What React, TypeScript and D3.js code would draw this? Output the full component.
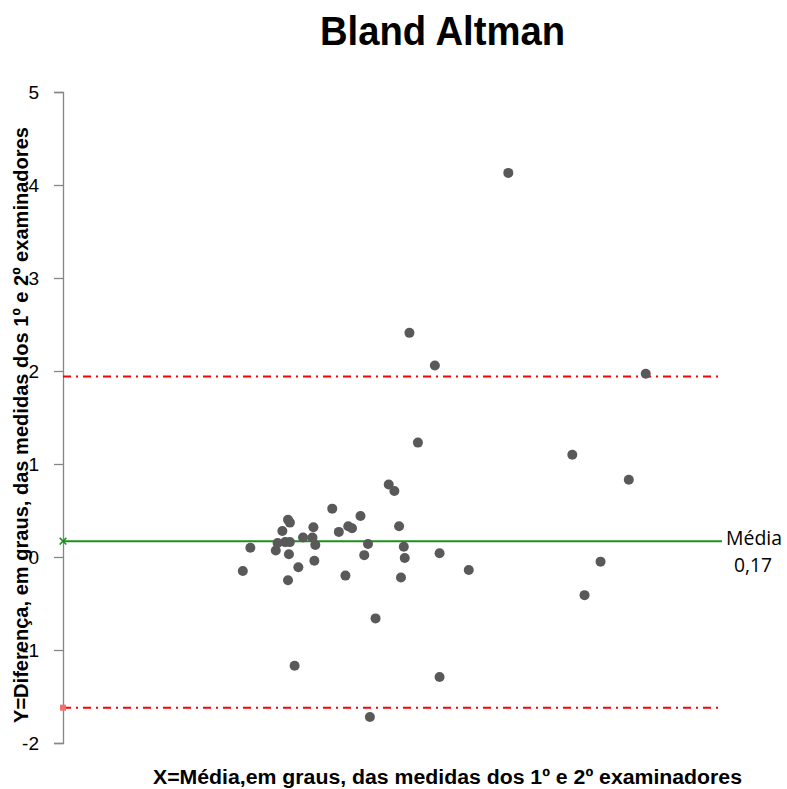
import React, { useEffect, useRef } from 'react';
import * as d3 from 'd3';

// mean of the two measurements (degrees) and their difference
const meanValues = [
  19.1, 19.9, 22.6, 22.8, 23.3, 23.6, 23.9, 24.1, 24.1, 24.0, 23.9, 25.0,
  25.5, 26.6, 26.5, 26.8, 26.7, 28.6, 29.3, 30.3, 30.7, 30.0, 31.6, 34.6,
  35.2, 35.7, 32.4, 32.0, 36.2, 36.3, 35.9, 40.0, 43.1, 47.3, 36.8, 39.5,
  61.9, 37.7, 54.1, 60.1, 57.1, 55.4, 33.2, 24.6, 40.0, 32.6,
];
const diffValues = [
  -0.15, 0.10, 0.07, 0.15, 0.28, 0.16, 0.40, 0.37, 0.16, 0.03, -0.25, -0.11,
  0.21, 0.32, 0.21, 0.13, -0.04, 0.52, 0.27, 0.33, 0.31, -0.20, 0.44, 0.78,
  0.71, 0.33, 0.14, 0.02, 0.11, -0.01, -0.22, 0.04, -0.14, 4.13, 2.41, 2.06,
  1.97, 1.23, 1.10, 0.83, -0.05, -0.41, -0.66, -1.17, -1.29, -1.72,
];
const meanDiff = 0.17;
const upperLimit = 1.94;
const lowerLimit = -1.62;
const yTicks = [-2, -1, 0, 1, 2, 3, 4, 5];
const xDomain = [0, 70];

const font = "'Liberation Sans', Arial, sans-serif";

const App = () => {
  const ref = useRef<SVGSVGElement | null>(null);

  useEffect(() => {
    document.body.style.margin = '0';
    if (!ref.current) return;
    const svg = d3.select(ref.current);
    svg.selectAll('*').remove();

    const left = 63, right = 722, top = 92, bottom = 743;
    const x = d3.scaleLinear().domain(xDomain).range([left, right]);
    const y = d3.scaleLinear().domain([-2, 5]).range([bottom, top]);

    // title (condensed look via textLength)
    svg.append('text')
      .attr('x', 320).attr('y', 45)
      .attr('font-family', font)
      .attr('font-weight', 'bold')
      .attr('font-size', 40)
      .attr('textLength', 245)
      .attr('lengthAdjust', 'spacingAndGlyphs')
      .text('Bland Altman');

    // y axis
    const yAxis = svg.append('g')
      .attr('transform', `translate(${left},0)`)
      .call(d3.axisLeft(y).tickValues(yTicks).tickSize(9).tickPadding(15).tickFormat((d) => String(d)));
    yAxis.select('.domain').attr('stroke', '#868686').attr('stroke-width', 1.3);
    yAxis.selectAll('.tick line').attr('stroke', '#868686').attr('stroke-width', 1.3);
    yAxis.selectAll('.tick text')
      .attr('font-family', font)
      .attr('font-size', 19)
      .attr('fill', '#000');

    // limits of agreement
    [upperLimit, lowerLimit].forEach((v) => {
      svg.append('line')
        .attr('x1', x(xDomain[0])).attr('x2', x(xDomain[1]))
        .attr('y1', y(v)).attr('y2', y(v))
        .attr('stroke', '#ff0000')
        .attr('stroke-width', 2)
        .attr('stroke-dasharray', '8,5,2,5');
    });
    svg.append('rect')
      .attr('x', x(xDomain[0]) - 3).attr('y', y(lowerLimit) - 3)
      .attr('width', 6).attr('height', 6)
      .attr('fill', '#f07070');

    // mean difference
    svg.append('line')
      .attr('x1', x(xDomain[0])).attr('x2', x(xDomain[1]))
      .attr('y1', y(meanDiff)).attr('y2', y(meanDiff))
      .attr('stroke', '#1f8f1f')
      .attr('stroke-width', 2);
    svg.append('path')
      .attr('d', d3.symbol(d3.symbolX, 30)())
      .attr('transform', `translate(${x(xDomain[0])},${y(meanDiff)})`)
      .attr('stroke', '#1f8f1f')
      .attr('stroke-width', 1.6)
      .attr('fill', 'none');

    svg.append('text')
      .attr('x', 726).attr('y', y(meanDiff) + 4)
      .attr('font-family', "'Open Sans', 'Liberation Sans', sans-serif")
      .attr('font-size', 20)
      .attr('textLength', 56)
      .attr('lengthAdjust', 'spacingAndGlyphs')
      .text('Média');
    svg.append('text')
      .attr('x', 734).attr('y', y(meanDiff) + 31)
      .attr('font-family', "'Open Sans', 'Liberation Sans', sans-serif")
      .attr('font-size', 20)
      .attr('textLength', 38)
      .attr('lengthAdjust', 'spacingAndGlyphs')
      .text('0,' + String(Math.round(meanDiff * 100)));

    // points
    svg.append('g')
      .selectAll('circle')
      .data(meanValues.map((m, i) => [m, diffValues[i]]))
      .join('circle')
      .attr('cx', (d) => x(d[0]))
      .attr('cy', (d) => y(d[1]))
      .attr('r', 5)
      .attr('fill', '#595959');

    // axis titles
    svg.append('text')
      .attr('x', 153).attr('y', 784)
      .attr('font-family', font)
      .attr('font-weight', 'bold')
      .attr('font-size', 20)
      .attr('textLength', 589)
      .attr('lengthAdjust', 'spacingAndGlyphs')
      .text('X=Média,em graus, das  medidas dos 1º e 2º examinadores');

    svg.append('text')
      .attr('transform', 'translate(28,723) rotate(-90)')
      .attr('font-family', font)
      .attr('font-weight', 'bold')
      .attr('font-size', 20)
      .attr('textLength', 596)
      .attr('lengthAdjust', 'spacingAndGlyphs')
      .text('Y=Diferença, em graus, das medidas dos  1º e 2º examinadores');
  }, []);

  return <svg ref={ref} width={787} height={789} style={{ display: 'block', background: '#fff' }} />;
};

export default App;
